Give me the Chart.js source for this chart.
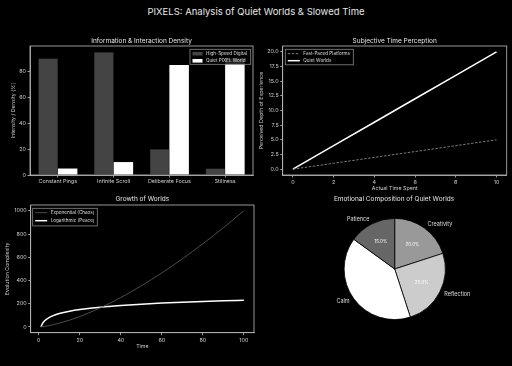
<!DOCTYPE html>
<html>
<head>
<meta charset="utf-8">
<title>PIXELS: Analysis of Quiet Worlds &amp; Slowed Time</title>
<script src="https://cdn.jsdelivr.net/npm/chart.js@4.4.1/dist/chart.umd.min.js"></script>
<style>
  html, body { margin: 0; padding: 0; background: #000; }
  body { width: 512px; height: 366px; position: relative; overflow: hidden; }
  h1 { position: absolute; left: 0; top: 0; width: 512px; margin: 0; text-align: center;
       font: normal 9.5px Inter, sans-serif; line-height: 24px; color: #e6e6e6; }
  canvas { position: absolute; }
</style>
</head>
<body>
<h1>PIXELS: Analysis of Quiet Worlds &amp; Slowed Time</h1>
<canvas id="density" width="256" height="156" style="left:0;top:30px"></canvas>
<canvas id="perception" width="256" height="166" style="left:256px;top:30px"></canvas>
<canvas id="growth" width="256" height="176" style="left:0;top:190px"></canvas>
<canvas id="emotion" width="256" height="176" style="left:256px;top:190px"></canvas>
<script>
// --- data ---
const densityCats = ['Constant Pings', 'Infinite Scroll', 'Deliberate Focus', 'Stillness'];
const highSpeed = [90, 95, 20, 5];
const quietPixel = [5, 10, 85, 90];
const densityTicks = [0, 20, 40, 60, 80];

const actualTime = [0, 2, 4, 6, 8, 10];
const fastPaced = [0, 1, 2, 3, 4, 5];
const quietWorlds = [0, 4, 8, 12, 16, 20];
const timeTicksX = [0, 2, 4, 6, 8, 10];
const depthTicks = [0, 2.5, 5, 7.5, 10, 12.5, 15, 17.5, 20];

const growthTime = [1, 2, 3, 5, 7, 10, 15, 20, 25, 30, 40, 50, 60, 70, 80, 90, 100];
const chaos = [1, 3, 5, 11, 19, 32, 58, 89, 125, 164, 253, 354, 465, 586, 716, 854, 1000];
const peace = [0, 35, 55, 80, 97, 115, 135, 150, 161, 170, 184, 196, 205, 212, 219, 225, 230];
const growthTicksX = [0, 20, 40, 60, 80, 100];
const growthTicksY = [0, 200, 400, 600, 800, 1000];

const emotionLabels = ['Creativity', 'Reflection', 'Calm', 'Patience'];
const emotionShare = [20, 25, 40, 15];
const emotionColors = ['#999999', '#cccccc', '#ffffff', '#666666'];

Chart.defaults.font.family = 'Inter';
Chart.defaults.color = '#ccc';
Chart.defaults.animation = false;

const FONT = 'Inter';

// frame, title and legend drawn the way the reference shows them
const frame = {
  id: 'frame',
  afterDraw(chart, args, o) {
    const { ctx, chartArea: a } = chart;
    ctx.save();
    if (o.box) {
      ctx.strokeStyle = '#bbb';
      ctx.lineWidth = 0.8;
      ctx.strokeRect(a.left, a.top, a.right - a.left, a.bottom - a.top);
    }
    ctx.fillStyle = '#e6e6e6';
    ctx.font = '6.5px ' + FONT;
    ctx.textAlign = 'center';
    ctx.textBaseline = 'middle';
    const tx = o.titleX != null ? o.titleX : (a.left + a.right) / 2;
    const ty = o.titleY != null ? o.titleY : a.top - o.titleGap;
    ctx.fillText(o.title, tx, ty);

    if (o.legend) {
      const L = o.legend;
      const left = L.side === 'right' ? a.right - L.inset - L.w : a.left + L.inset;
      const top = a.top + 3.3;
      ctx.fillStyle = 'rgba(0,0,0,0.85)';
      ctx.fillRect(left, top, L.w, L.h);
      ctx.strokeStyle = '#888';
      ctx.lineWidth = 0.8;
      ctx.strokeRect(left, top, L.w, L.h);
      ctx.font = '4.6px ' + FONT;
      ctx.textAlign = 'left';
      chart.data.datasets.forEach((ds, i) => {
        const cy = top + 4.4 + i * L.gap;
        const sx = left + 2.5;
        if (chart.config.type === 'bar') {
          ctx.fillStyle = ds.backgroundColor;
          ctx.fillRect(sx, cy - 1.8, L.sw, 3.6);
        } else {
          ctx.strokeStyle = ds.borderColor;
          ctx.lineWidth = ds.borderWidth;
          ctx.setLineDash(ds.borderDash || []);
          ctx.beginPath();
          ctx.moveTo(sx, cy);
          ctx.lineTo(sx + L.sw, cy);
          ctx.stroke();
          ctx.setLineDash([]);
        }
        ctx.fillStyle = '#ddd';
        ctx.fillText(ds.label, sx + L.sw + 3.5, cy);
      });
    }
    ctx.restore();
  }
};

const pieLabels = {
  id: 'pieLabels',
  afterDatasetsDraw(chart) {
    const { ctx } = chart;
    const meta = chart.getDatasetMeta(0);
    const total = emotionShare.reduce((s, v) => s + v, 0);
    ctx.save();
    ctx.textBaseline = 'middle';
    meta.data.forEach((arc, i) => {
      const p = arc.getProps(['x', 'y', 'startAngle', 'endAngle', 'outerRadius'], true);
      const mid = (p.startAngle + p.endAngle) / 2;
      const c = Math.cos(mid), s = Math.sin(mid);
      ctx.font = '5.5px ' + FONT;
      ctx.fillStyle = '#ddd';
      ctx.textAlign = c >= 0 ? 'left' : 'right';
      ctx.fillText(emotionLabels[i], p.x + c * p.outerRadius * 1.1, p.y + s * p.outerRadius * 1.1);
      ctx.font = '4.5px ' + FONT;
      ctx.fillStyle = '#fff';
      ctx.textAlign = 'center';
      ctx.fillText((emotionShare[i] / total * 100).toFixed(1) + '%',
        p.x + c * p.outerRadius * 0.6, p.y + s * p.outerRadius * 0.6);
    });
    ctx.restore();
  }
};

function axis(extra) {
  const base = {
    border: { display: true, color: '#bbb', width: 0.8 },
    grid: { display: true, drawOnChartArea: false, drawTicks: true, tickLength: 2.5, color: '#bbb', lineWidth: 0.8, offset: false },
    ticks: { color: '#ccc', font: { size: 5.4 }, padding: 1.5, maxRotation: 0, autoSkip: false, callback: v => String(v) },
    title: { display: false }
  };
  for (const k in extra) base[k] = typeof extra[k] === 'object' && !Array.isArray(extra[k]) && base[k]
    ? Object.assign({}, base[k], extra[k]) : extra[k];
  return base;
}
function fixTicks(list) {
  return s => { s.ticks = list.map(v => ({ value: v })); };
}
const axisTitle = (text, pad) => ({ display: true, text, color: '#ccc', font: { size: 5.3 }, padding: pad });

// 1. Information & Interaction Density
new Chart(document.getElementById('density'), {
  type: 'bar',
  data: {
    labels: densityCats,
    datasets: [
      { label: 'High-Speed Digital', data: highSpeed, backgroundColor: '#444444', borderColor: '#555', borderWidth: 0.5 },
      { label: 'Quiet PIXEL World', data: quietPixel, backgroundColor: '#ffffff' }
    ]
  },
  options: {
    responsive: false,
    categoryPercentage: 0.7,
    barPercentage: 1.0,
    layout: { padding: { top: 16, right: 3, left: 0, bottom: 0 } },
    scales: {
      x: axis({ afterFit: s => { s.height = 11; }, ticks: { padding: 1, callback(v) { return this.getLabelForValue(v); } } }),
      y: axis({
        min: 0, max: 99.75,
        afterBuildTicks: fixTicks(densityTicks),
        afterFit: s => { s.width = 30; },
        title: axisTitle('Intensity / Density (%)', { top: 10, bottom: 0 })
      })
    },
    plugins: {
      legend: { display: false }, tooltip: { enabled: false },
      frame: { box: true, title: 'Information & Interaction Density', titleGap: 4.5,
        legend: { side: 'right', inset: 2.3, w: 60.7, h: 15, sw: 10, gap: 7.1 } }
    }
  },
  plugins: [frame]
});

// 2. Subjective Time Perception
new Chart(document.getElementById('perception'), {
  type: 'line',
  data: {
    datasets: [
      { label: 'Fast-Paced Platforms', data: actualTime.map((x, i) => ({ x, y: fastPaced[i] })),
        borderColor: '#888', borderWidth: 0.9, borderDash: [2.5, 1.5], pointRadius: 0 },
      { label: 'Quiet Worlds', data: actualTime.map((x, i) => ({ x, y: quietWorlds[i] })),
        borderColor: '#fff', borderWidth: 1.5, pointRadius: 0 }
    ]
  },
  options: {
    responsive: false,
    layout: { padding: { top: 16, right: 5.3, left: 0, bottom: 0 } },
    scales: {
      x: axis({
        type: 'linear', min: -0.5, max: 10.5,
        afterBuildTicks: fixTicks(timeTicksX),
        afterFit: s => { s.height = 21; },
        title: axisTitle('Actual Time Spent', { top: 0, bottom: 4.4 })
      }),
      y: axis({
        min: -1, max: 21,
        afterBuildTicks: fixTicks(depthTicks),
        afterFit: s => { s.width = 26.7; },
        ticks: { callback: v => v.toFixed(1) },
        title: axisTitle('Perceived Depth of Experience', { top: 2, bottom: 0 })
      })
    },
    plugins: {
      legend: { display: false }, tooltip: { enabled: false },
      frame: { box: true, title: 'Subjective Time Perception', titleGap: 4.5,
        legend: { side: 'left', inset: 2.6, w: 68, h: 15.5, sw: 12, gap: 7 } }
    }
  },
  plugins: [frame]
});

// 3. Growth of Worlds
new Chart(document.getElementById('growth'), {
  type: 'line',
  data: {
    datasets: [
      { label: 'Exponential (Chaos)', data: growthTime.map((x, i) => ({ x, y: chaos[i] })),
        borderColor: '#555', borderWidth: 0.9, pointRadius: 0, cubicInterpolationMode: 'monotone' },
      { label: 'Logarithmic (Peace)', data: growthTime.map((x, i) => ({ x, y: peace[i] })),
        borderColor: '#fff', borderWidth: 1.5, pointRadius: 0, cubicInterpolationMode: 'monotone' }
    ]
  },
  options: {
    responsive: false,
    layout: { padding: { top: 15, right: 2, left: 0, bottom: 0 } },
    scales: {
      x: axis({
        type: 'linear', min: -3.95, max: 104.95,
        afterBuildTicks: fixTicks(growthTicksX),
        afterFit: s => { s.height = 33.3; },
        title: axisTitle('Time', { top: 0, bottom: 16.7 })
      }),
      y: axis({
        min: -50, max: 1050,
        afterBuildTicks: fixTicks(growthTicksY),
        afterFit: s => { s.width = 30.7; },
        title: axisTitle('Evolution Complexity', { top: 4, bottom: 0 })
      })
    },
    plugins: {
      legend: { display: false }, tooltip: { enabled: false },
      frame: { box: true, title: 'Growth of Worlds', titleGap: 5.5,
        legend: { side: 'left', inset: 2, w: 64.6, h: 17.6, sw: 12, gap: 8 } }
    }
  },
  plugins: [frame]
});

// 4. Emotional Composition of Quiet Worlds
new Chart(document.getElementById('emotion'), {
  type: 'pie',
  data: {
    labels: emotionLabels,
    datasets: [{ data: emotionShare, backgroundColor: emotionColors, borderColor: '#000', borderWidth: 0.8 }]
  },
  options: {
    responsive: false,
    layout: { padding: { left: 87.7, top: 28, right: 66.3, bottom: 46 } },
    plugins: {
      legend: { display: false }, tooltip: { enabled: false },
      frame: { box: false, title: 'Emotional Composition of Quiet Worlds', titleX: 138, titleY: 9.5 }
    }
  },
  plugins: [frame, pieLabels]
});
</script>
</body>
</html>
